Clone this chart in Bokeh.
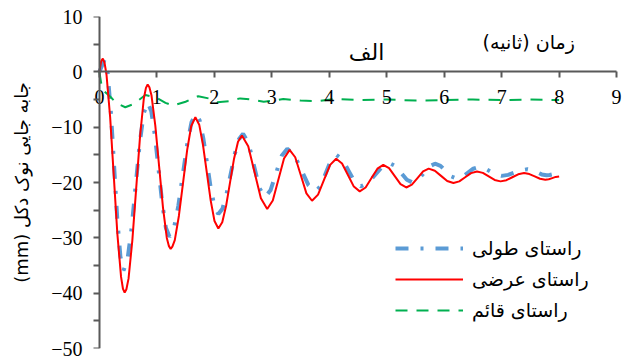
from bokeh.plotting import figure
from bokeh.models import FixedTicker, Label, Legend, LegendItem, Range1d, LinearAxis
from bokeh.embed import file_html
from bokeh.resources import INLINE

# ---------------- data ----------------
x_ticks = [0, 1, 2, 3, 4, 5, 6, 7, 8, 9]
y_ticks = [-50, -40, -30, -20, -10, 0, 10]
y_minor = [-45, -35, -25, -15, -5, 5]

title_text = "الف"
x_label = "زمان (ثانیه)"
y_label = "(mm) جابه جایی نوک دکل"
series_names = ["راستای طولی", "راستای عرضی", "راستای قائم"]

# longitudinal (blue, dash-dot)
t_long = [0, 0.09, 0.145, 0.2, 0.255, 0.31, 0.365, 0.42, 0.49, 0.56, 0.63, 0.70, 0.77, 0.84,
          0.903, 0.967, 1.03, 1.093, 1.157, 1.22, 1.297, 1.373, 1.45, 1.527, 1.603, 1.68,
          1.745, 1.81, 1.875, 1.94, 2.005, 2.07, 2.142, 2.213, 2.285, 2.357, 2.428, 2.5,
          2.595, 2.69, 2.785, 2.88, 2.9775, 3.075, 3.1725, 3.27, 3.3925, 3.515, 3.6375, 3.76,
          3.85, 3.94, 4.03, 4.12, 4.2275, 4.335, 4.4425, 4.55, 4.675, 4.8, 4.925, 5.05,
          5.15, 5.25, 5.35, 5.45, 5.5475, 5.645, 5.7425, 5.84, 5.935, 6.03, 6.125, 6.22,
          6.315, 6.41, 6.505, 6.6, 6.7, 6.8, 6.9, 7.0, 7.1125, 7.225, 7.3375, 7.45,
          7.5325, 7.615, 7.6975, 7.78, 7.835, 7.89, 7.945, 8.0]
d_long = [0, 2.2, -0.35, -7.33, -16.85, -26.38, -33.35, -35.9, -33.86, -28.3, -20.7, -13.1, -7.54, -5.5,
          -7.13, -11.58, -17.65, -23.73, -28.17, -29.8, -28.31, -24.25, -18.7, -13.15, -9.09, -7.6,
          -8.81, -12.13, -16.65, -21.18, -24.49, -25.7, -24.73, -22.07, -18.45, -14.82, -12.17, -11.2,
          -12.88, -16.95, -21.02, -22.7, -21.42, -18.3, -15.18, -13.9, -15.02, -17.75, -20.48, -21.6,
          -20.64, -18.3, -15.96, -15.0, -15.83, -17.85, -19.87, -20.7, -20.09, -18.6, -17.11, -16.5,
          -17.01, -18.25, -19.49, -20.0, -19.5, -18.3, -17.1, -16.6, -16.99, -17.95, -18.91, -19.3,
          -18.99, -18.25, -17.51, -17.2, -17.43, -18.0, -18.57, -18.8, -18.62, -18.2, -17.78, -17.6,
          -17.76, -18.15, -18.54, -18.7, -18.64, -18.5, -18.36, -18.3]

# transverse (red, solid)
t_trans = [0, 0.03, 0.06, 0.09, 0.123, 0.187, 0.25, 0.313, 0.377, 0.41, 0.44, 0.47, 0.507, 0.573,
           0.64, 0.707, 0.773, 0.81, 0.84, 0.87, 0.907, 0.973, 1.04, 1.107, 1.173, 1.21, 1.24, 1.27,
           1.312, 1.383, 1.455, 1.527, 1.598, 1.67,
           1.737, 1.803, 1.87, 1.937, 2.003, 2.07, 2.138, 2.207, 2.275, 2.343, 2.412, 2.48,
           2.59, 2.70, 2.81, 2.92, 3.0175, 3.115, 3.2125, 3.31, 3.4075, 3.505, 3.6025, 3.70,
           3.805, 3.91, 4.015, 4.12, 4.2225, 4.325, 4.4275, 4.53, 4.6325, 4.735, 4.8375, 4.94,
           5.04, 5.14, 5.24, 5.34, 5.4375, 5.535, 5.6325, 5.73, 5.8375, 5.945, 6.0525, 6.16,
           6.2625, 6.365, 6.4675, 6.57, 6.6725, 6.775, 6.8775, 6.98, 7.0825, 7.185, 7.2875, 7.39,
           7.4825, 7.575, 7.6675, 7.76, 7.82, 7.88, 7.94, 8.0]
d_trans = [0, 1.9, 2.4, 1.6, -0.43, -8.18, -18.75, -29.33, -37.07, -39.2, -39.9, -39.3, -37.38, -30.5,
           -21.1, -11.7, -4.82, -2.9, -2.3, -2.8, -4.29, -9.73, -17.15, -24.58, -30.01, -31.5, -32.0, -31.6,
           -30.41, -26.05, -20.1, -14.15, -9.79, -8.2,
           -9.55, -13.23, -18.25, -23.28, -26.95, -28.3, -27.17, -24.1, -19.9, -15.7, -12.63, -11.5,
           -13.44, -18.15, -22.86, -24.8, -23.24, -19.45, -15.66, -14.1, -15.44, -18.7, -21.96, -23.3,
           -22.19, -19.5, -16.81, -15.7, -16.56, -18.65, -20.74, -21.6, -20.9, -19.2, -17.5, -16.8,
           -17.4, -18.85, -20.3, -20.9, -20.4, -19.2, -18.0, -17.5, -17.88, -18.8, -19.72, -20.1,
           -19.79, -19.05, -18.31, -18.0, -18.26, -18.9, -19.54, -19.8, -19.58, -19.05, -18.52, -18.3,
           -18.48, -18.9, -19.32, -19.5, -19.41, -19.2, -18.99, -18.9]

# vertical (green, dashed)
t_vert = [0, 0.03, 0.08, 0.2, 0.3, 0.45, 0.6, 0.8, 1.0, 1.15, 1.28, 1.5, 1.72, 1.9, 2.05, 2.25,
          2.45, 2.65, 2.86, 3.05, 3.2, 3.5, 3.8, 4.1, 4.5, 5.0, 5.5, 6.0, 6.5, 7.0, 7.5, 8.0]
d_vert = [0, -2.0, -3.5, -4.6, -5.7, -6.4, -5.8, -4.2, -4.7, -5.6, -6.1, -5.4, -4.4, -4.8, -5.5, -5.3,
          -4.8, -5.0, -5.4, -5.2, -4.9, -5.2, -5.3, -4.9, -5.1, -5.0, -5.2, -5.1, -5.0, -5.1, -5.0, -5.1]

# ---------------- figure ----------------
AX = "#595959"
p = figure(width=624, height=360, x_range=Range1d(-0.12, 9.12), y_range=Range1d(-50, 10),
           output_backend="svg", toolbar_location=None,
           min_border_left=92, min_border_right=1, min_border_top=16, min_border_bottom=12)
p.outline_line_color = None
p.grid.visible = False
p.background_fill_color = "white"
p.border_fill_color = "white"

# x axis crossing at y = 0
xa = p.xaxis[0]
xa.fixed_location = 0
xa.bounds = (0, 9)
xa.ticker = FixedTicker(ticks=x_ticks, minor_ticks=[])
xa.axis_line_color = AX
xa.axis_line_width = 2
xa.major_tick_line_color = AX
xa.major_tick_line_width = 2
xa.major_tick_out = 6
xa.major_tick_in = 0
xa.minor_tick_line_color = None
xa.major_label_text_font = "Liberation Serif"
xa.major_label_text_font_size = "20px"
xa.major_label_text_color = "black"
xa.major_label_standoff = 12

# outer y axis: only tick labels and axis title
ya = p.yaxis[0]
ya.ticker = FixedTicker(ticks=y_ticks, minor_ticks=y_minor)
ya.axis_line_color = None
ya.major_tick_line_color = None
ya.minor_tick_line_color = None
ya.major_tick_out = 0
ya.major_tick_in = 0
ya.minor_tick_out = 0
ya.minor_tick_in = 0
ya.major_label_text_font = "Liberation Serif"
ya.major_label_text_font_size = "20px"
ya.major_label_text_color = "black"
ya.major_label_standoff = 10
ya.axis_label = y_label
ya.axis_label_text_font = "DejaVu Sans"
ya.axis_label_text_font_size = "18px"
ya.axis_label_text_font_style = "normal"
ya.axis_label_text_color = "black"
ya.axis_label_standoff = 16

# y axis line and ticks drawn at x = 0
ya0 = LinearAxis(fixed_location=0, bounds=(-50, 10),
                 ticker=FixedTicker(ticks=y_ticks, minor_ticks=y_minor),
                 axis_line_color=AX, axis_line_width=2,
                 major_tick_line_color=AX, major_tick_line_width=2,
                 minor_tick_line_color=AX, minor_tick_line_width=2,
                 major_tick_out=6, major_tick_in=0, minor_tick_out=6, minor_tick_in=0,
                 major_label_text_color=None)
p.add_layout(ya0, "left")

rb = p.line(t_long, d_long, line_color="#5B9BD5", line_width=4, line_dash="13 12 3 12")
rg = p.line(t_vert, d_vert, line_color="#00B050", line_width=2, line_dash="12 9")
rr = p.line(t_trans, d_trans, line_color="#FF0000", line_width=2)

p.add_layout(Label(x=4.65, y=3.5, text=title_text, text_align="center", text_baseline="middle",
                   text_font="DejaVu Sans", text_font_size="22px", text_font_style="normal",
                   text_color="black"))
p.add_layout(Label(x=7.47, y=5.4, text=x_label, text_align="center", text_baseline="middle",
                   text_font="DejaVu Sans", text_font_size="19px", text_color="black"))

legend = Legend(items=[LegendItem(label=series_names[0], renderers=[rb]),
                       LegendItem(label=series_names[1], renderers=[rr]),
                       LegendItem(label=series_names[2], renderers=[rg])],
                location=(303, 27), glyph_width=68, glyph_height=20, label_height=20,
                spacing=9, label_standoff=9, padding=0, margin=0,
                border_line_color=None, background_fill_alpha=0,
                label_text_font="DejaVu Sans", label_text_font_size="19px",
                label_text_color="black")
p.add_layout(legend)

open("out.html", "w").write(file_html(p, INLINE))
